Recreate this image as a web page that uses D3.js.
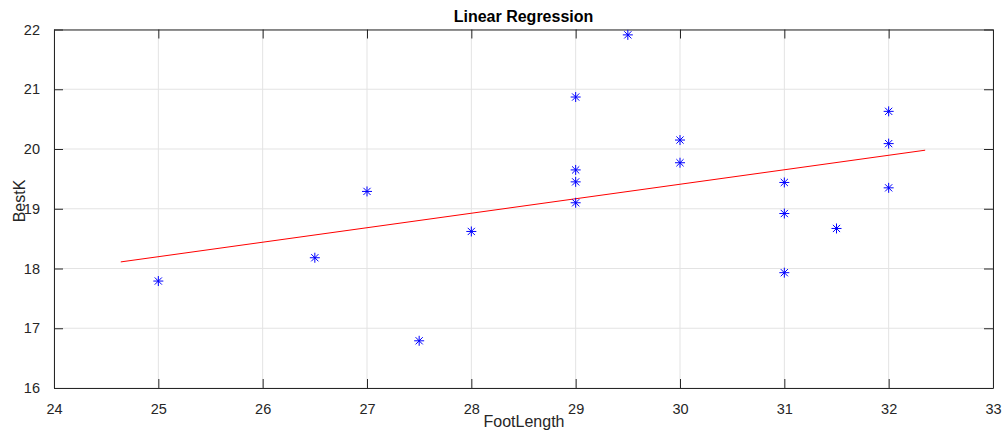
<!DOCTYPE html>
<html><head><meta charset="utf-8">
<script src="https://cdn.jsdelivr.net/npm/d3@7"></script>
<style>body{margin:0;background:#fff;}text{font-family:"Liberation Sans",Arial,sans-serif;}</style>
</head><body><svg id="c" width="1003" height="433"></svg>
<script>
const footLength = [25, 26.5, 27, 27.5, 28, 29, 29, 29, 29, 29.5, 30, 30, 31, 31, 31, 31.5, 32, 32, 32];
const bestK = [17.79, 18.18, 19.29, 16.79, 18.62, 20.87, 19.65, 19.45, 19.1, 21.91, 20.15, 19.77, 19.44, 18.92, 17.93, 18.67, 20.63, 20.09, 19.35];
const fitCoef = [0.2425, 12.135]; // slope, intercept
const fitRange = [24.64, 32.35];
const xTicks = [24, 25, 26, 27, 28, 29, 30, 31, 32, 33];
const yTicks = [16, 17, 18, 19, 20, 21, 22];

const svg = d3.select("#c");
const L = 54, R = 993, T = 29.5, B = 388;
const x = d3.scaleLinear().domain([24, 33]).range([L, R]);
const y = d3.scaleLinear().domain([16, 22]).range([B, T]);

// grid
svg.append("g").selectAll("line").data(xTicks).join("line")
  .attr("x1", d => x(d)).attr("x2", d => x(d)).attr("y1", T).attr("y2", B)
  .attr("stroke", "#e3e3e3").attr("stroke-width", 1);
svg.append("g").selectAll("line").data(yTicks).join("line")
  .attr("x1", L).attr("x2", R).attr("y1", d => y(d)).attr("y2", d => y(d))
  .attr("stroke", "#e3e3e3").attr("stroke-width", 1);

// axes
const ax = svg.append("g").attr("transform", `translate(0,${B})`)
  .call(d3.axisBottom(x).tickValues(xTicks).tickSizeInner(-9).tickSizeOuter(0).tickPadding(16).tickFormat(d3.format("d")));
const ay = svg.append("g").attr("transform", `translate(${L},0)`)
  .call(d3.axisLeft(y).tickValues(yTicks).tickSizeInner(-9).tickSizeOuter(0).tickPadding(14).tickFormat(d3.format("d")));
const axT = svg.append("g").attr("transform", `translate(0,${T})`)
  .call(d3.axisTop(x).tickValues(xTicks).tickSizeInner(-9).tickSizeOuter(0).tickFormat(""));
const ayR = svg.append("g").attr("transform", `translate(${R},0)`)
  .call(d3.axisRight(y).tickValues(yTicks).tickSizeInner(-9).tickSizeOuter(0).tickFormat(""));
[ax, ay, axT, ayR].forEach(g => {
  g.select(".domain").attr("stroke", "#262626");
  g.selectAll(".tick line").attr("stroke", "#262626");
  g.selectAll(".tick text").attr("fill", "#262626").attr("font-size", 14.5)
   .attr("font-family", '"Liberation Sans",Arial,sans-serif');
});
ax.selectAll(".tick text").attr("dy", "0.71em");

// regression line
svg.append("line")
  .attr("x1", x(fitRange[0])).attr("y1", y(fitCoef[0] * fitRange[0] + fitCoef[1]))
  .attr("x2", x(fitRange[1])).attr("y2", y(fitCoef[0] * fitRange[1] + fitCoef[1]))
  .attr("stroke", "#ff0000").attr("stroke-width", 1);

// asterisk markers
const s = 5, dd = 3.6;
const mk = svg.append("g").selectAll("g").data(footLength.map((f, i) => [f, bestK[i]])).join("g")
  .attr("transform", d => `translate(${x(d[0])},${y(d[1])})`)
  .attr("stroke", "#0000ff").attr("stroke-width", 1);
mk.append("path").attr("d", `M${-s},0H${s}M0,${-s}V${s}M${-dd},${-dd}L${dd},${dd}M${-dd},${dd}L${dd},${-dd}`);

// labels
svg.append("text").attr("x", (L + R) / 2).attr("y", 22).attr("text-anchor", "middle")
  .attr("font-weight", "bold").attr("font-size", 16).attr("fill", "#000").text("Linear Regression");
svg.append("text").attr("x", (L + R) / 2 + 0.5).attr("y", 427).attr("text-anchor", "middle")
  .attr("font-size", 16).attr("fill", "#262626").text("FootLength");
svg.append("text").attr("transform", `translate(25,201) rotate(-90)`).attr("text-anchor", "middle")
  .attr("font-size", 16).attr("fill", "#262626").text("BestK");
</script></body></html>
